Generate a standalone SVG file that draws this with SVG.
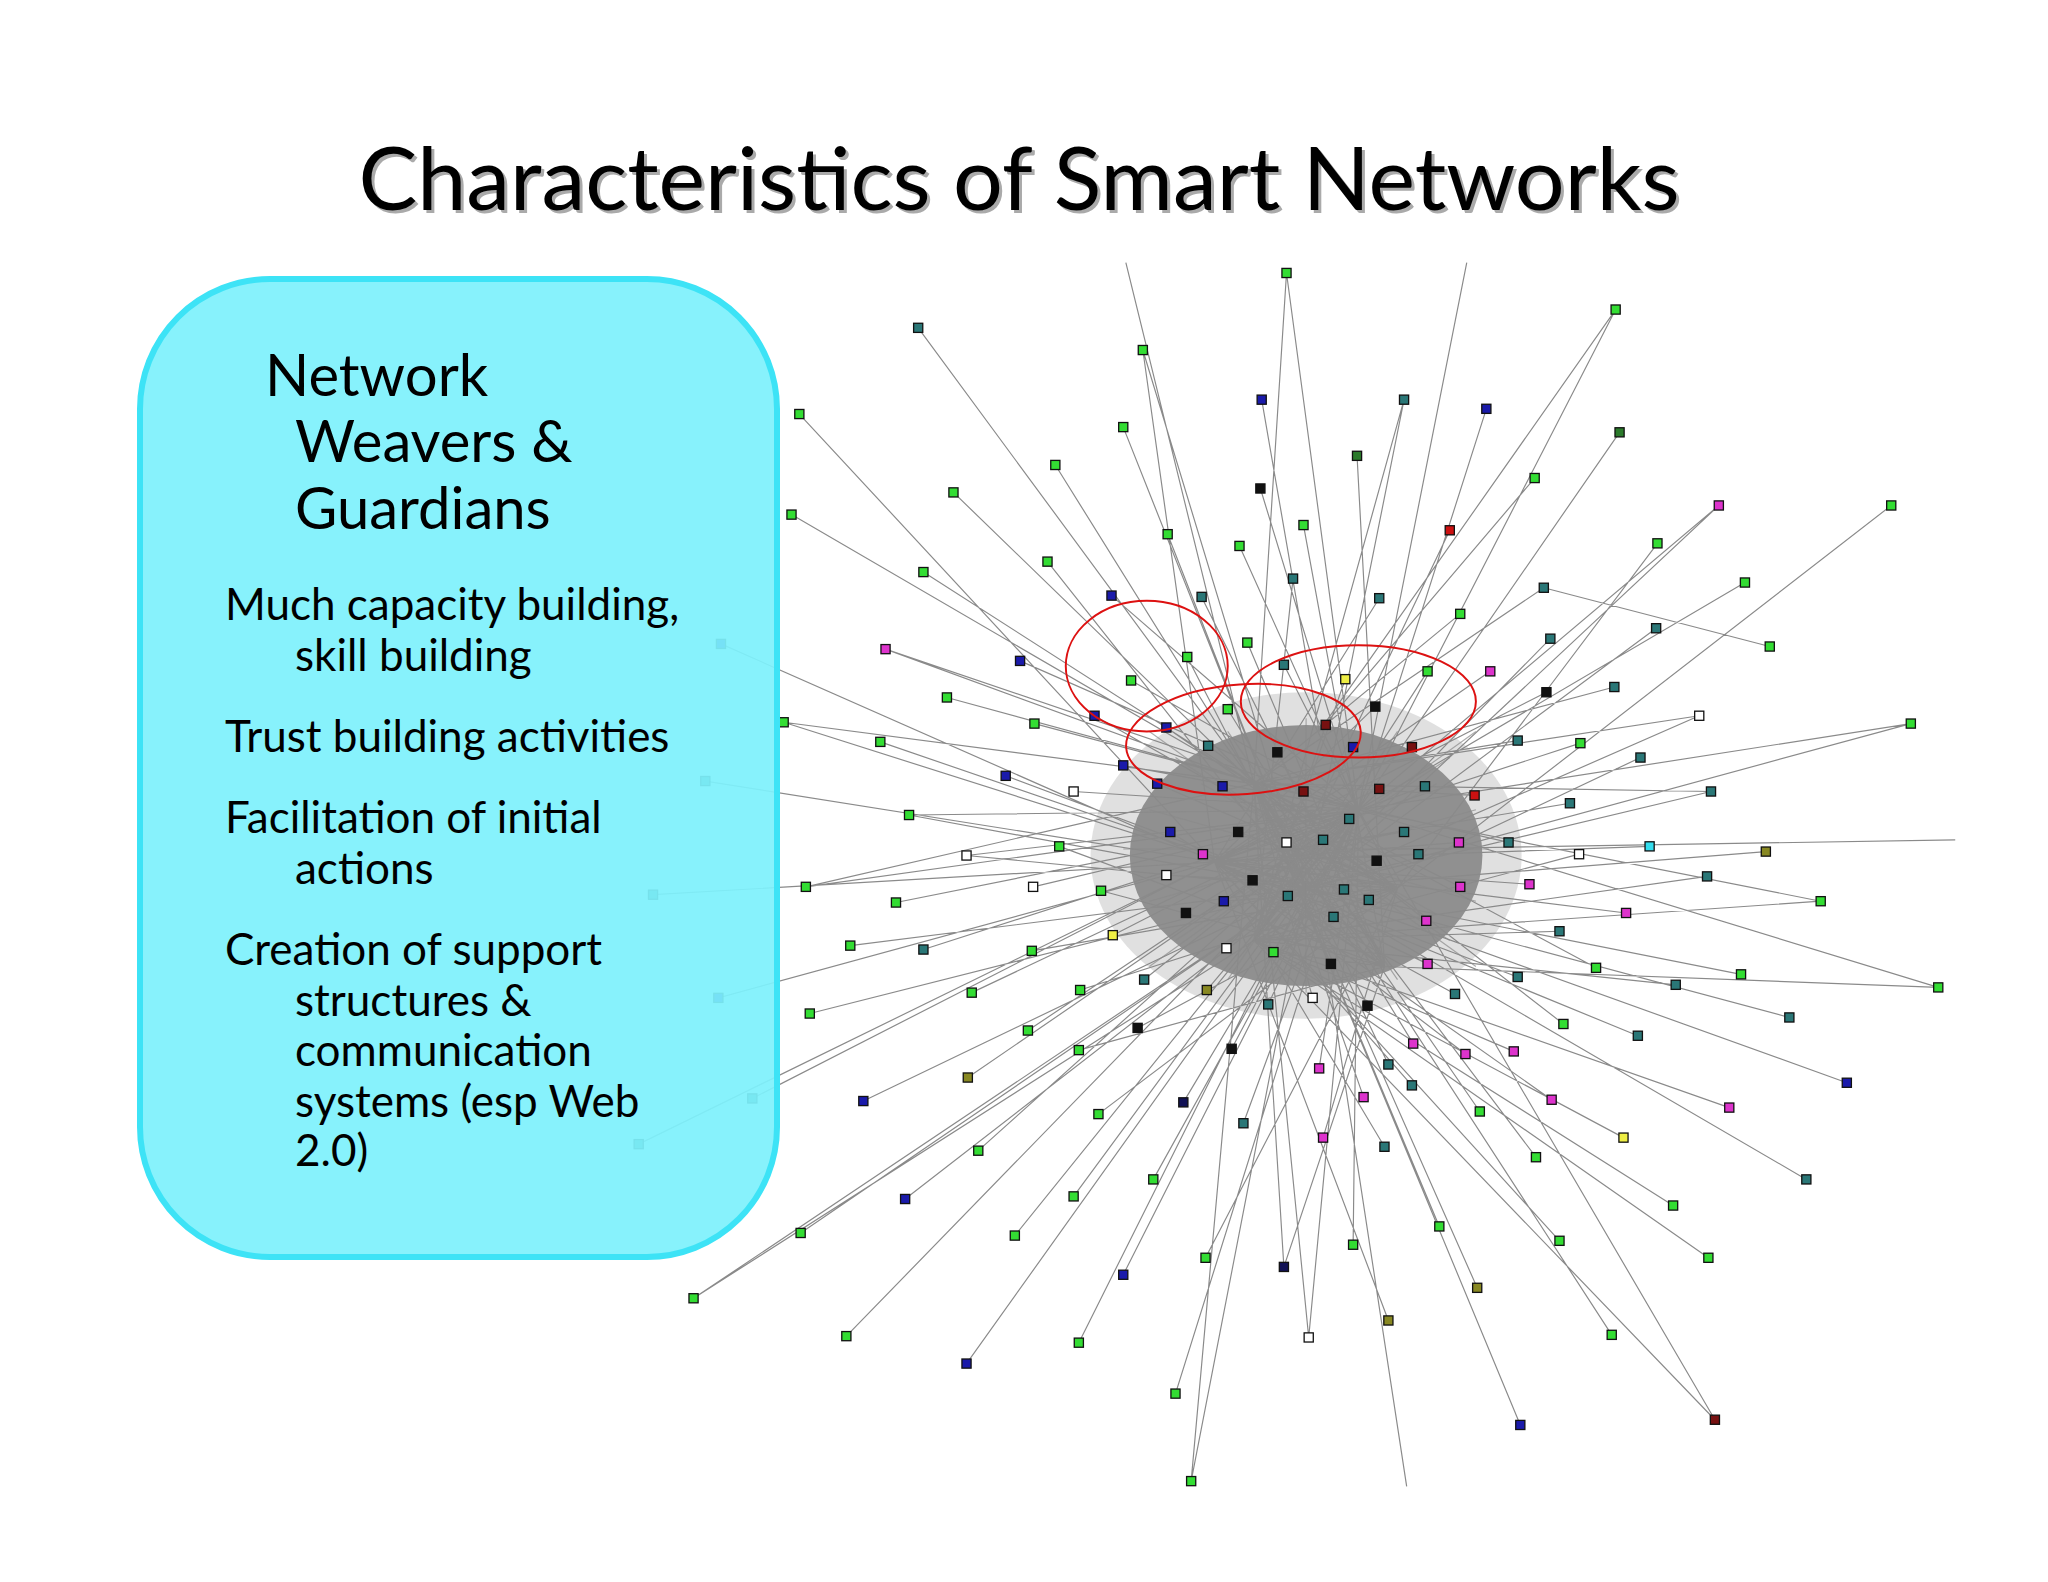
<svg xmlns="http://www.w3.org/2000/svg" width="2048" height="1582" viewBox="0 0 2048 1582">
<defs>
<style>
.t{font-family:Lato,"Open Sans","Liberation Sans",sans-serif;fill:#000}
.n rect{stroke:#111;stroke-width:1}
.g{fill:#33dd33}.dg{fill:#2a7a2a}.tl{fill:#2a7777}.b{fill:#1a1aaa}.k{fill:#111}.w{fill:#fff}.m{fill:#dd33cc}.r{fill:#cc1111}.dr{fill:#771111}.y{fill:#eeee44}.o{fill:#888822}.c{fill:#33ddee}.db{fill:#111155}
.ln{stroke:#8a8a8a;stroke-width:0.9;fill:none}
</style>
</defs>
<rect width="2048" height="1582" fill="#fff"/>
<text x="1022" y="213" text-anchor="middle" class="t" font-size="88" style="fill:#aaa">Characteristics of Smart Networks</text>
<text x="1019" y="210" text-anchor="middle" class="t" font-size="88">Characteristics of Smart Networks</text>
<g id="network" transform="scale(1.3061)">
<ellipse cx="1000" cy="655" rx="135" ry="100" fill="#8d8d8d"/>
<ellipse cx="1000" cy="655" rx="165" ry="125" fill="#999" opacity="0.3"/>
<g id="connectors">
<path class="ln" d="M862,201L960,600M1123,201L1040,620M1497,643L1070,650M1077,1138L1010,700
M985,209L960,600M985,209L1040,620M1237,237L1040,620M1237,237L1010,560M703,251L960,600M875,268L1000,680M875,268L930,660M966,306L1010,560M1075,306L1000,680M1075,306L960,720M1138,313L1040,620M612,317L930,660M860,327L1000,680M1240,331L1040,620M1039,349L1060,740M808,356L960,600M1175,366L1010,560M965,374L1040,620M730,377L960,600M1316,387L1040,620M1316,387L960,720M1448,387L1070,680M606,394L960,600M998,402L1060,740M1110,406L960,720M894,409L1000,680M949,418L1040,620M1269,416L1070,680M802,430L1000,680M990,443L960,720M707,438L960,600M1336,446L1040,620M1182,450L960,600M1182,450L1355,495M920,457L1060,740M1056,458L930,660M851,456L1040,620M1118,470L960,600M1268,481L1000,680M1187,489L960,720M678,497L960,600M678,497L1040,620M552,493L930,660M955,492L1060,740M909,503L1000,680M781,506L1040,620M1141,514L930,660M1093,514L960,720M983,509L1070,680M866,521L1040,620M1030,520L960,720M1184,530L930,660M1236,526L960,600M725,534L1040,620M1053,541L930,660M838,548L1070,680M940,543L1060,740M1301,548L960,600M1301,548L1000,680M1463,554L1040,620M1463,554L1000,680M600,553L960,600M600,553L1000,680M1015,555L960,720M893,557L1070,680M792,554L1040,620M1162,567L960,600M674,568L1000,680M1210,569L930,660M1081,572L930,660M1036,572L960,720M978,576L1060,740M925,571L1070,680M1256,580L960,720M860,586L1040,620M770,594L1000,680M886,600L1070,680M936,602L1060,740M822,606L1040,620M998,606L960,720M1056,604L930,660M1129,609L960,600M1091,602L930,660M1310,606L960,600M1310,606L1000,680M540,598L930,660M696,624L1040,620M696,624L1000,680M1202,615L930,660M1033,627L960,720M948,637L1070,680M896,637L1060,740M1075,637L930,660M1013,643L960,720M985,645L1070,680M1117,645L930,660M1155,645L960,600M1209,654L960,720M1263,648L930,660M1352,652L1000,680M740,655L1040,620M740,655L1000,680M811,648L1060,740M921,654L1070,680M1054,659L960,600M1086,654L930,660M959,674L1060,740M893,670L1070,680M1307,671L960,720M617,679L1040,620M617,679L960,600M791,679L1040,620M1171,677L930,660M1118,679L960,600M843,682L1060,740M1029,681L930,660M1394,690L960,720M1394,690L1040,620M686,691L1040,620M986,686L1060,740M937,690L1070,680M1048,689L960,600M1245,699L930,660M500,685L930,660M908,699L1040,620M1092,705L960,600M1194,713L960,720M651,724L1000,680M852,716L1040,620M707,727L1040,620M1021,702L960,600M790,728L1070,680M939,726L1040,620M975,729L1060,740M1019,738L960,600M1093,738L930,660M1222,741L960,600M1333,746L1000,680M876,750L1040,620M1162,748L930,660M1283,754L960,720M1484,756L1060,740M1484,756L1040,620M550,764L930,660M744,760L1040,620M827,758L1070,680M924,758L1040,620M1005,764L960,600M1114,761L930,660M971,769L1040,620M1047,770L960,600M620,776L1000,680M1370,779L1000,680M787,789L1040,620M871,787L1070,680M1197,784L960,600M1254,793L930,660M1082,799L960,600M943,803L1040,620M826,804L1060,740M1122,807L930,660M1159,805L960,720M1010,818L1040,620M1063,815L960,600M1081,831L930,660M741,825L1040,620M1414,829L1000,680M576,841L930,660M661,843L1000,680M906,844L1040,620M1044,840L960,600M1188,842L930,660M1324,848L960,720M841,853L1070,680M952,860L1040,620M1133,851L960,600M1013,871L1070,680M1243,871L960,720M1060,878L930,660M489,876L930,660M749,881L1040,620M1176,886L960,600M1383,903L1000,680M883,903L1040,620M693,918L1000,680M822,916L1040,620M1281,923L960,720M1102,939L960,600M613,944L1000,680M777,946L1040,620M1194,950L930,660M1036,953L1040,620M923,963L1070,680M1308,963L960,720M860,976L1040,620M983,970L1060,740M983,970L960,600M1131,986L960,600M531,994L1000,680M531,994L960,720M1063,1011L930,660M1234,1022L960,600M648,1023L1040,620M826,1028L1000,680M1002,1024L1040,620M1002,1024L960,600M740,1044L1000,680M1313,1087L960,720M1313,1087L1040,620M1164,1091L960,600M900,1067L1040,620M912,1134L1000,680M912,1134L960,600"/>
<path class="ln" stroke-opacity="0.7" d="M880,560L1130,740M880,740L1130,560M860,650L1140,650M1000,550L1000,760M900,580L1110,720M900,720L1110,580M940,560L1070,750M940,750L1070,560M880,620L1130,690M880,690L1130,620M920,600L1100,700M920,700L1100,600"/>
</g>
<g class="n">
<g id="n1"><rect class="g" x="981.5" y="205.5" width="7" height="7"/></g>
<rect class="g" x="1233.5" y="233.5" width="7" height="7"/><rect class="tl" x="699.5" y="247.5" width="7" height="7"/><rect class="g" x="871.5" y="264.5" width="7" height="7"/><rect class="b" x="962.5" y="302.5" width="7" height="7"/><rect class="tl" x="1071.5" y="302.5" width="7" height="7"/><rect class="b" x="1134.5" y="309.5" width="7" height="7"/><rect class="g" x="608.5" y="313.5" width="7" height="7"/><rect class="g" x="856.5" y="323.5" width="7" height="7"/><rect class="dg" x="1236.5" y="327.5" width="7" height="7"/><rect class="dg" x="1035.5" y="345.5" width="7" height="7"/><rect class="g" x="804.5" y="352.5" width="7" height="7"/><rect class="g" x="1171.5" y="362.5" width="7" height="7"/><rect class="k" x="961.5" y="370.5" width="7" height="7"/><rect class="g" x="726.5" y="373.5" width="7" height="7"/><rect class="m" x="1312.5" y="383.5" width="7" height="7"/><rect class="g" x="1444.5" y="383.5" width="7" height="7"/><rect class="g" x="602.5" y="390.5" width="7" height="7"/><rect class="g" x="994.5" y="398.5" width="7" height="7"/><rect class="r" x="1106.5" y="402.5" width="7" height="7"/><rect class="g" x="890.5" y="405.5" width="7" height="7"/><rect class="g" x="945.5" y="414.5" width="7" height="7"/><rect class="g" x="1265.5" y="412.5" width="7" height="7"/><rect class="g" x="798.5" y="426.5" width="7" height="7"/><rect class="tl" x="986.5" y="439.5" width="7" height="7"/><rect class="g" x="703.5" y="434.5" width="7" height="7"/><rect class="g" x="1332.5" y="442.5" width="7" height="7"/><rect class="tl" x="1178.5" y="446.5" width="7" height="7"/><rect class="tl" x="916.5" y="453.5" width="7" height="7"/><rect class="tl" x="1052.5" y="454.5" width="7" height="7"/><rect class="b" x="847.5" y="452.5" width="7" height="7"/><rect class="g" x="1114.5" y="466.5" width="7" height="7"/><rect class="tl" x="1264.5" y="477.5" width="7" height="7"/><rect class="tl" x="1183.5" y="485.5" width="7" height="7"/><rect class="m" x="674.5" y="493.5" width="7" height="7"/><rect class="g" x="1351.5" y="491.5" width="7" height="7"/><rect class="b" x="548.5" y="489.5" width="7" height="7"/><rect class="g" x="951.5" y="488.5" width="7" height="7"/><rect class="g" x="905.5" y="499.5" width="7" height="7"/><rect class="b" x="777.5" y="502.5" width="7" height="7"/><rect class="m" x="1137.5" y="510.5" width="7" height="7"/><rect class="g" x="1089.5" y="510.5" width="7" height="7"/><rect class="tl" x="979.5" y="505.5" width="7" height="7"/><rect class="g" x="862.5" y="517.5" width="7" height="7"/><rect class="y" x="1026.5" y="516.5" width="7" height="7"/><rect class="k" x="1180.5" y="526.5" width="7" height="7"/><rect class="tl" x="1232.5" y="522.5" width="7" height="7"/><rect class="g" x="721.5" y="530.5" width="7" height="7"/><rect class="k" x="1049.5" y="537.5" width="7" height="7"/><rect class="b" x="834.5" y="544.5" width="7" height="7"/><rect class="g" x="936.5" y="539.5" width="7" height="7"/><rect class="w" x="1297.5" y="544.5" width="7" height="7"/><rect class="g" x="1459.5" y="550.5" width="7" height="7"/><rect class="g" x="596.5" y="549.5" width="7" height="7"/><rect class="dr" x="1011.5" y="551.5" width="7" height="7"/><rect class="b" x="889.5" y="553.5" width="7" height="7"/><rect class="g" x="788.5" y="550.5" width="7" height="7"/><rect class="tl" x="1158.5" y="563.5" width="7" height="7"/><rect class="g" x="670.5" y="564.5" width="7" height="7"/><rect class="g" x="1206.5" y="565.5" width="7" height="7"/><rect class="dr" x="1077.5" y="568.5" width="7" height="7"/><rect class="b" x="1032.5" y="568.5" width="7" height="7"/><rect class="k" x="974.5" y="572.5" width="7" height="7"/><rect class="tl" x="921.5" y="567.5" width="7" height="7"/><rect class="tl" x="1252.5" y="576.5" width="7" height="7"/><rect class="b" x="856.5" y="582.5" width="7" height="7"/><rect class="b" x="766.5" y="590.5" width="7" height="7"/><rect class="b" x="882.5" y="596.5" width="7" height="7"/><rect class="b" x="932.5" y="598.5" width="7" height="7"/><rect class="w" x="818.5" y="602.5" width="7" height="7"/><rect class="dr" x="994.5" y="602.5" width="7" height="7"/><rect class="dr" x="1052.5" y="600.5" width="7" height="7"/><rect class="r" x="1125.5" y="605.5" width="7" height="7"/><rect class="tl" x="1087.5" y="598.5" width="7" height="7"/><rect class="tl" x="1306.5" y="602.5" width="7" height="7"/><rect class="tl" x="536.5" y="594.5" width="7" height="7"/><rect class="g" x="692.5" y="620.5" width="7" height="7"/><rect class="tl" x="1198.5" y="611.5" width="7" height="7"/><rect class="tl" x="1029.5" y="623.5" width="7" height="7"/><rect class="k" x="944.5" y="633.5" width="7" height="7"/><rect class="b" x="892.5" y="633.5" width="7" height="7"/><rect class="tl" x="1071.5" y="633.5" width="7" height="7"/><rect class="tl" x="1009.5" y="639.5" width="7" height="7"/><rect class="w" x="981.5" y="641.5" width="7" height="7"/><rect class="m" x="1113.5" y="641.5" width="7" height="7"/><rect class="tl" x="1151.5" y="641.5" width="7" height="7"/><rect class="w" x="1205.5" y="650.5" width="7" height="7"/><rect class="c" x="1259.5" y="644.5" width="7" height="7"/><rect class="o" x="1348.5" y="648.5" width="7" height="7"/><rect class="w" x="736.5" y="651.5" width="7" height="7"/><rect class="g" x="807.5" y="644.5" width="7" height="7"/><rect class="m" x="917.5" y="650.5" width="7" height="7"/><rect class="k" x="1050.5" y="655.5" width="7" height="7"/><rect class="tl" x="1082.5" y="650.5" width="7" height="7"/><rect class="k" x="955.5" y="670.5" width="7" height="7"/><rect class="w" x="889.5" y="666.5" width="7" height="7"/><rect class="tl" x="1303.5" y="667.5" width="7" height="7"/><rect class="g" x="613.5" y="675.5" width="7" height="7"/><rect class="w" x="787.5" y="675.5" width="7" height="7"/><rect class="m" x="1167.5" y="673.5" width="7" height="7"/><rect class="m" x="1114.5" y="675.5" width="7" height="7"/><rect class="g" x="839.5" y="678.5" width="7" height="7"/><rect class="tl" x="1025.5" y="677.5" width="7" height="7"/><rect class="g" x="1390.5" y="686.5" width="7" height="7"/><rect class="g" x="682.5" y="687.5" width="7" height="7"/><rect class="tl" x="982.5" y="682.5" width="7" height="7"/><rect class="b" x="933.5" y="686.5" width="7" height="7"/><rect class="tl" x="1044.5" y="685.5" width="7" height="7"/><rect class="m" x="1241.5" y="695.5" width="7" height="7"/><rect class="tl" x="496.5" y="681.5" width="7" height="7"/><rect class="k" x="904.5" y="695.5" width="7" height="7"/><rect class="m" x="1088.5" y="701.5" width="7" height="7"/><rect class="tl" x="1190.5" y="709.5" width="7" height="7"/><rect class="g" x="647.5" y="720.5" width="7" height="7"/><rect class="y" x="848.5" y="712.5" width="7" height="7"/><rect class="tl" x="703.5" y="723.5" width="7" height="7"/><rect class="tl" x="1017.5" y="698.5" width="7" height="7"/><rect class="g" x="786.5" y="724.5" width="7" height="7"/><rect class="w" x="935.5" y="722.5" width="7" height="7"/><rect class="g" x="971.5" y="725.5" width="7" height="7"/><rect class="k" x="1015.5" y="734.5" width="7" height="7"/><rect class="m" x="1089.5" y="734.5" width="7" height="7"/><rect class="g" x="1218.5" y="737.5" width="7" height="7"/><rect class="g" x="1329.5" y="742.5" width="7" height="7"/><rect class="tl" x="872.5" y="746.5" width="7" height="7"/><rect class="tl" x="1158.5" y="744.5" width="7" height="7"/><rect class="tl" x="1279.5" y="750.5" width="7" height="7"/><rect class="g" x="1480.5" y="752.5" width="7" height="7"/><rect class="b" x="546.5" y="760.5" width="7" height="7"/><rect class="g" x="740.5" y="756.5" width="7" height="7"/><rect class="g" x="823.5" y="754.5" width="7" height="7"/><rect class="o" x="920.5" y="754.5" width="7" height="7"/><rect class="w" x="1001.5" y="760.5" width="7" height="7"/><rect class="tl" x="1110.5" y="757.5" width="7" height="7"/><rect class="tl" x="967.5" y="765.5" width="7" height="7"/><rect class="k" x="1043.5" y="766.5" width="7" height="7"/><rect class="g" x="616.5" y="772.5" width="7" height="7"/><rect class="tl" x="1366.5" y="775.5" width="7" height="7"/><rect class="g" x="783.5" y="785.5" width="7" height="7"/><rect class="k" x="867.5" y="783.5" width="7" height="7"/><rect class="g" x="1193.5" y="780.5" width="7" height="7"/><rect class="tl" x="1250.5" y="789.5" width="7" height="7"/><rect class="m" x="1078.5" y="795.5" width="7" height="7"/><rect class="k" x="939.5" y="799.5" width="7" height="7"/><rect class="g" x="822.5" y="800.5" width="7" height="7"/><rect class="m" x="1118.5" y="803.5" width="7" height="7"/><rect class="m" x="1155.5" y="801.5" width="7" height="7"/><rect class="m" x="1006.5" y="814.5" width="7" height="7"/><rect class="tl" x="1059.5" y="811.5" width="7" height="7"/><rect class="tl" x="1077.5" y="827.5" width="7" height="7"/><rect class="o" x="737.5" y="821.5" width="7" height="7"/><rect class="b" x="1410.5" y="825.5" width="7" height="7"/><rect class="tl" x="572.5" y="837.5" width="7" height="7"/><rect class="b" x="657.5" y="839.5" width="7" height="7"/><rect class="db" x="902.5" y="840.5" width="7" height="7"/><rect class="m" x="1040.5" y="836.5" width="7" height="7"/><rect class="m" x="1184.5" y="838.5" width="7" height="7"/><rect class="m" x="1320.5" y="844.5" width="7" height="7"/><rect class="g" x="837.5" y="849.5" width="7" height="7"/><rect class="tl" x="948.5" y="856.5" width="7" height="7"/><rect class="g" x="1129.5" y="847.5" width="7" height="7"/><rect class="m" x="1009.5" y="867.5" width="7" height="7"/><rect class="y" x="1239.5" y="867.5" width="7" height="7"/><rect class="tl" x="1056.5" y="874.5" width="7" height="7"/><rect class="tl" x="485.5" y="872.5" width="7" height="7"/><rect class="g" x="745.5" y="877.5" width="7" height="7"/><rect class="g" x="1172.5" y="882.5" width="7" height="7"/><rect class="tl" x="1379.5" y="899.5" width="7" height="7"/><rect class="g" x="879.5" y="899.5" width="7" height="7"/><rect class="b" x="689.5" y="914.5" width="7" height="7"/><rect class="g" x="818.5" y="912.5" width="7" height="7"/><rect class="g" x="1277.5" y="919.5" width="7" height="7"/><rect class="g" x="1098.5" y="935.5" width="7" height="7"/><rect class="g" x="609.5" y="940.5" width="7" height="7"/><rect class="g" x="773.5" y="942.5" width="7" height="7"/><rect class="g" x="1190.5" y="946.5" width="7" height="7"/><rect class="g" x="1032.5" y="949.5" width="7" height="7"/><rect class="g" x="919.5" y="959.5" width="7" height="7"/><rect class="g" x="1304.5" y="959.5" width="7" height="7"/><rect class="b" x="856.5" y="972.5" width="7" height="7"/><rect class="db" x="979.5" y="966.5" width="7" height="7"/><rect class="o" x="1127.5" y="982.5" width="7" height="7"/><rect class="g" x="527.5" y="990.5" width="7" height="7"/><rect class="o" x="1059.5" y="1007.5" width="7" height="7"/><rect class="g" x="1230.5" y="1018.5" width="7" height="7"/><rect class="g" x="644.5" y="1019.5" width="7" height="7"/><rect class="g" x="822.5" y="1024.5" width="7" height="7"/><rect class="w" x="998.5" y="1020.5" width="7" height="7"/><rect class="b" x="736.5" y="1040.5" width="7" height="7"/><rect class="dr" x="1309.5" y="1083.5" width="7" height="7"/><rect class="b" x="1160.5" y="1087.5" width="7" height="7"/><rect class="g" x="896.5" y="1063.5" width="7" height="7"/><rect class="g" x="908.5" y="1130.5" width="7" height="7"/>
</g>
<g id="highlights" fill="none" stroke="#dd1111" stroke-width="1.5">
<ellipse cx="878" cy="510" rx="62" ry="50"/>
<ellipse cx="952" cy="566" rx="90" ry="42" transform="rotate(-4 952 566)"/>
<ellipse cx="1040" cy="537" rx="90" ry="43"/>
</g>
</g>
<g id="box">
<rect x="140" y="279" width="637" height="978" rx="130" fill="#7ef1fc" fill-opacity="0.93" stroke="#3de3f6" stroke-width="6"/>
<g class="t" font-size="58">
<text x="265" y="396">Network</text>
<text x="295" y="462">Weavers &amp;</text>
<text x="295" y="529">Guardians</text>
</g>
<g class="t" font-size="44">
<text x="225" y="620">Much capacity building,</text>
<text x="295" y="671">skill building</text>
<text x="225" y="752">Trust building activities</text>
<text x="225" y="833">Facilitation of initial</text>
<text x="295" y="884">actions</text>
<text x="225" y="965">Creation of support</text>
<text x="295" y="1016">structures &amp;</text>
<text x="295" y="1066">communication</text>
<text x="295" y="1117">systems (esp Web</text>
<text x="295" y="1166">2.0)</text>
</g>
</g>
</svg>
